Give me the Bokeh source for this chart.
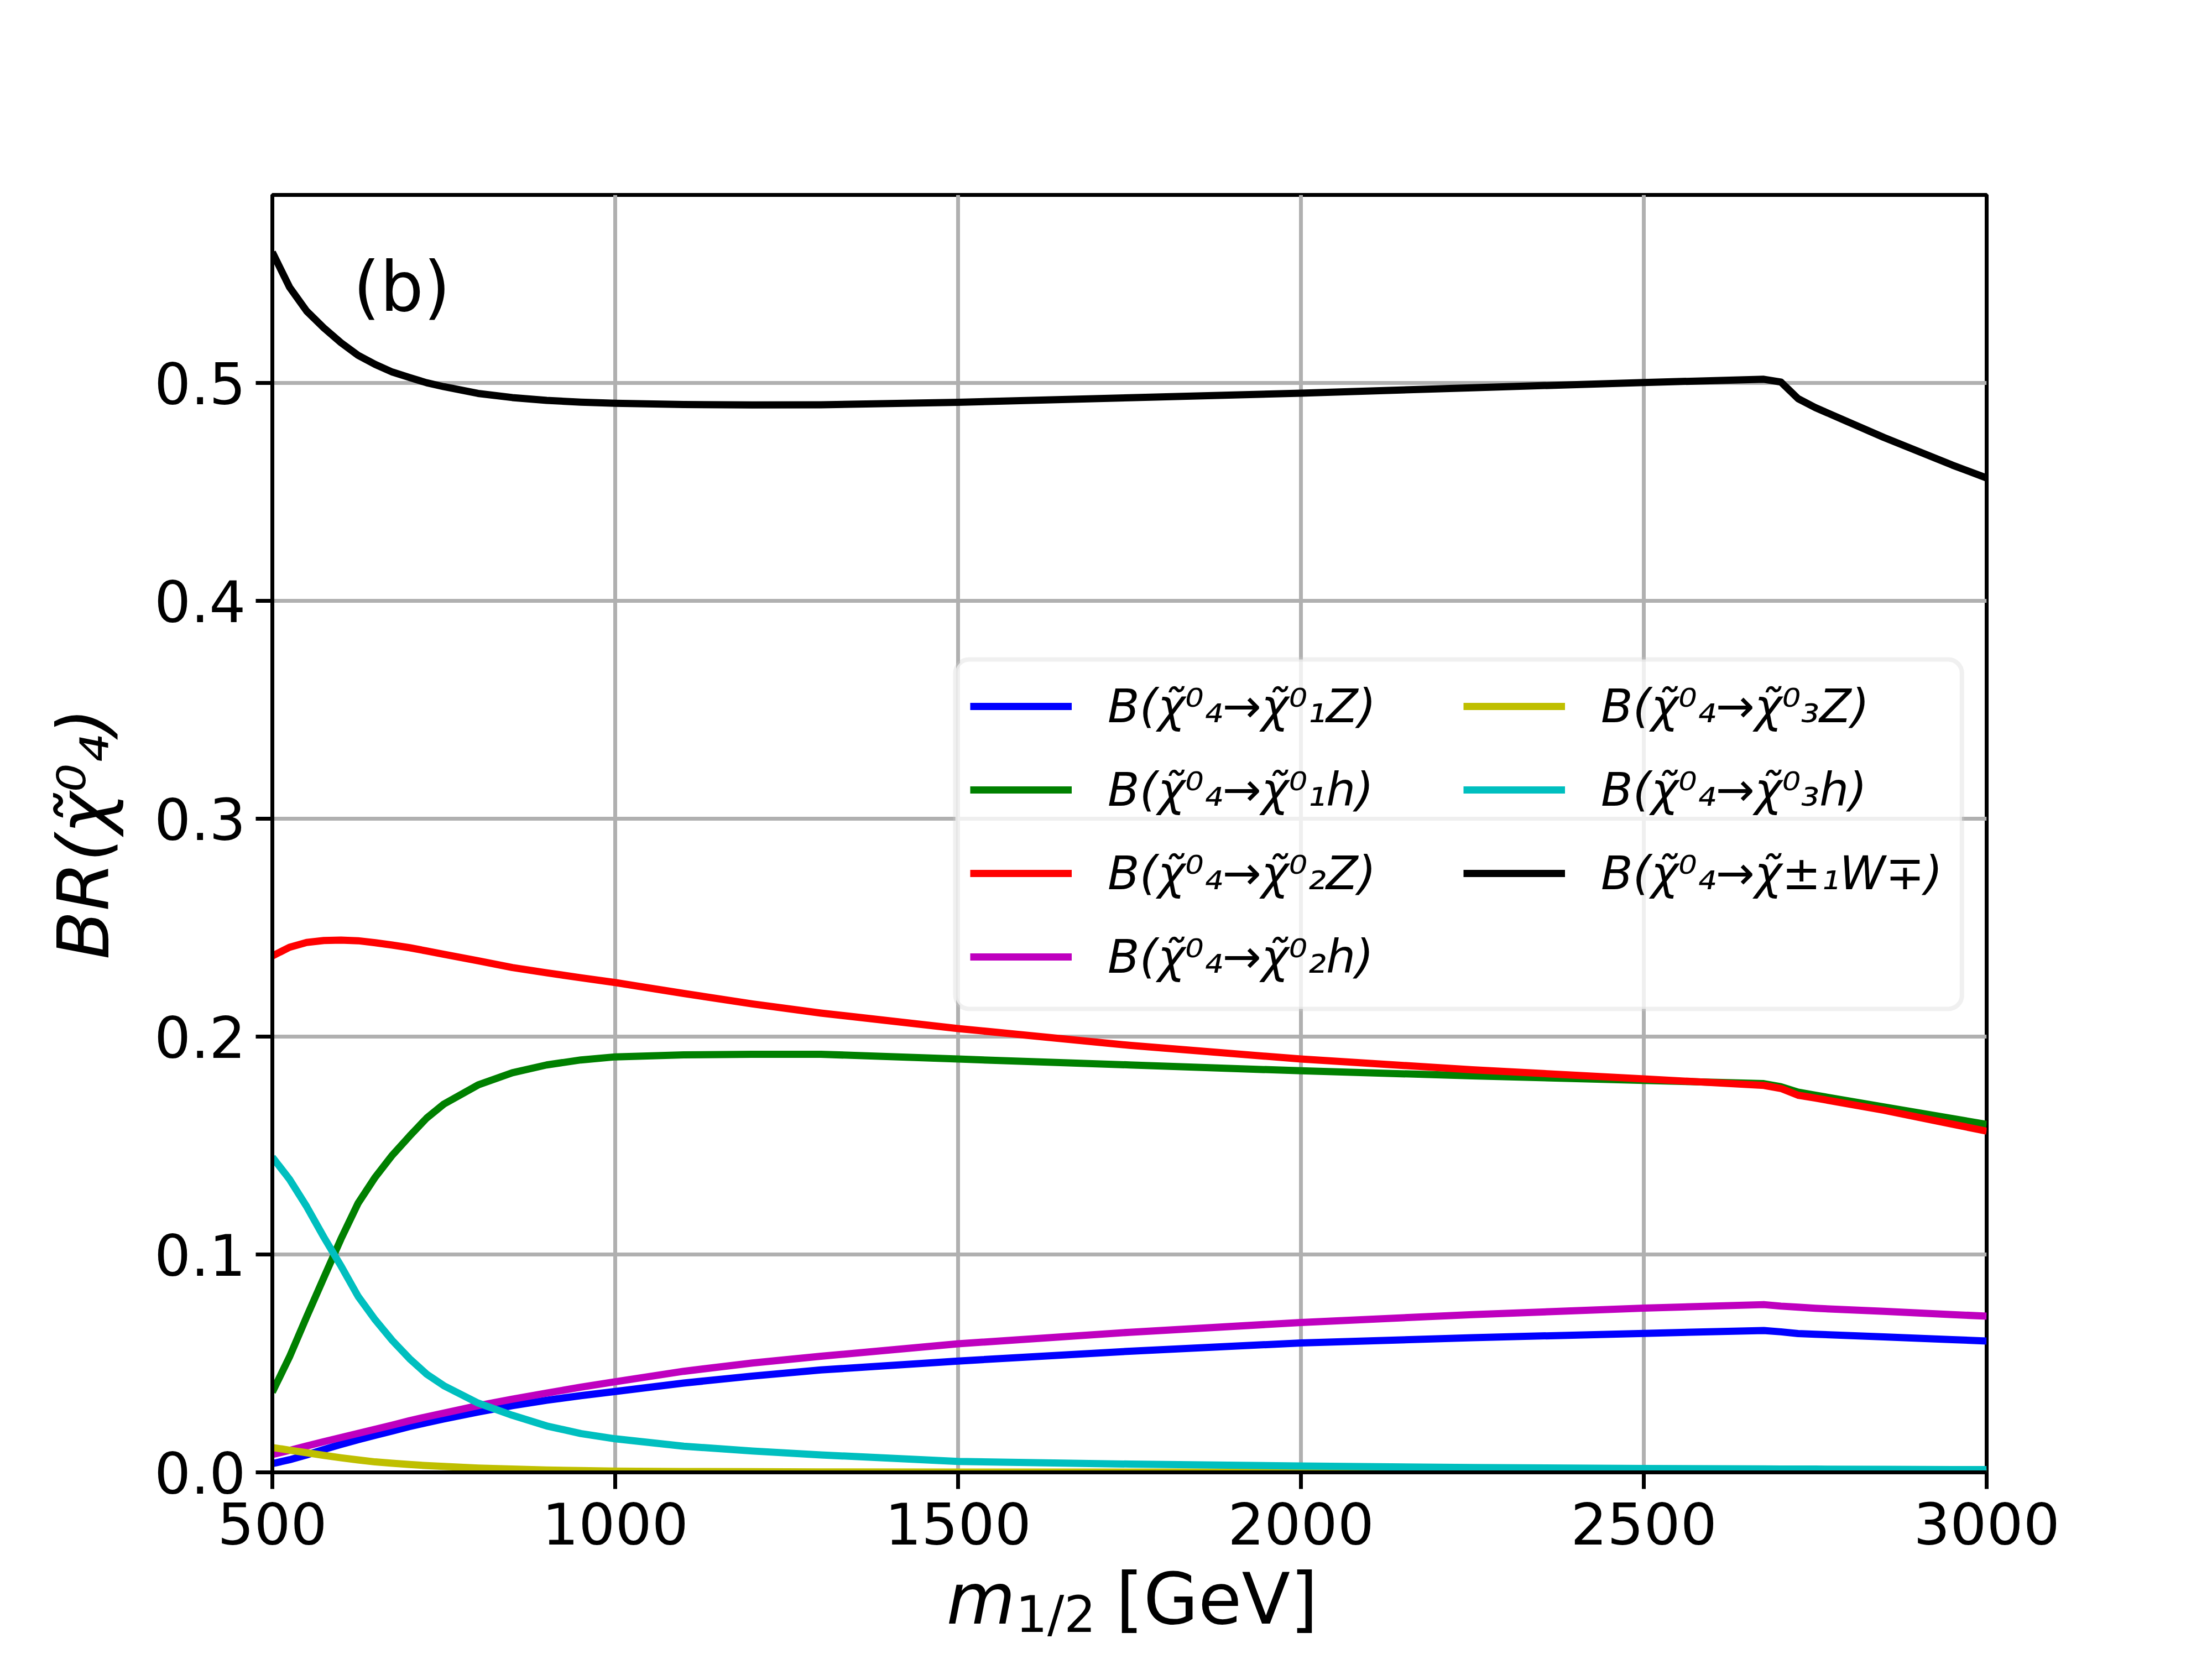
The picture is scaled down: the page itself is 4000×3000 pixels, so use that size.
import numpy as np
from bokeh.plotting import figure
from bokeh.models import (Range1d, FixedTicker, PrintfTickFormatter, Legend,
                          LegendItem, BoxAnnotation, Label)
from bokeh.embed import file_html
from bokeh.resources import INLINE

# ---------------- data ----------------
m_half = [500, 525, 550, 575, 600, 625, 650, 675, 700, 725, 750, 800, 850, 900, 950,
          1000, 1100, 1200, 1300, 1500, 1750, 2000, 2250, 2500, 2675, 2700, 2725,
          2750, 2850, 2950, 3000]

br_chi1_Z = [0.0040, 0.0058, 0.0080, 0.0105, 0.0128, 0.0150, 0.0170, 0.0190, 0.0210,
             0.0228, 0.0245, 0.0277, 0.0306, 0.0331, 0.0352, 0.0371, 0.0410, 0.0442,
             0.0470, 0.0511, 0.0556, 0.0594, 0.0618, 0.0638, 0.0651, 0.0645, 0.0637,
             0.0634, 0.0622, 0.0609, 0.0603]

br_chi1_h = [0.0368, 0.0530, 0.0714, 0.0893, 0.1071, 0.1235, 0.1355, 0.1456, 0.1543,
             0.1626, 0.1690, 0.1778, 0.1834, 0.1870, 0.1893, 0.1907, 0.1916, 0.1919,
             0.1919, 0.1897, 0.1870, 0.1843, 0.1820, 0.1799, 0.1784, 0.1770, 0.1745,
             0.1731, 0.1677, 0.1624, 0.1597]

br_chi2_Z = [0.2370, 0.2410, 0.2432, 0.2441, 0.2443, 0.2440, 0.2431, 0.2420, 0.2408,
             0.2393, 0.2378, 0.2348, 0.2317, 0.2293, 0.2270, 0.2248, 0.2198, 0.2150,
             0.2108, 0.2037, 0.1960, 0.1897, 0.1848, 0.1806, 0.1776, 0.1762, 0.1731,
             0.1718, 0.1662, 0.1598, 0.1566]

br_chi2_h = [0.0082, 0.0101, 0.0121, 0.0141, 0.0160, 0.0179, 0.0198, 0.0217, 0.0237,
             0.0255, 0.0272, 0.0306, 0.0336, 0.0364, 0.0391, 0.0416, 0.0464, 0.0502,
             0.0533, 0.0590, 0.0643, 0.0688, 0.0724, 0.0754, 0.0770, 0.0763, 0.0758,
             0.0753, 0.0739, 0.0724, 0.0717]

br_chi3_Z = [0.0114, 0.0102, 0.0090, 0.0078, 0.0067, 0.0057, 0.0048, 0.0042, 0.0036,
             0.0031, 0.0027, 0.0020, 0.0015, 0.0011, 0.0008, 0.0006, 0.0004, 0.0003,
             0.0002, 0.0001, 0.0001, 0.0001, 0.0000, 0.0000, 0.0000, 0.0000, 0.0000,
             0.0000, 0.0000, 0.0000, 0.0000]

br_chi3_h = [0.1447, 0.1345, 0.1220, 0.1080, 0.0948, 0.0808, 0.0700, 0.0605, 0.0522,
             0.0451, 0.0398, 0.0318, 0.0262, 0.0213, 0.0178, 0.0154, 0.0120, 0.0098,
             0.0080, 0.0050, 0.0038, 0.0029, 0.0022, 0.0018, 0.0016, 0.0015, 0.0015,
             0.0015, 0.0014, 0.0013, 0.0013]

br_charg_W = [0.5600, 0.5440, 0.5330, 0.5253, 0.5185, 0.5127, 0.5085, 0.5050, 0.5025,
              0.5001, 0.4983, 0.4952, 0.4933, 0.4920, 0.4912, 0.4907, 0.4901, 0.4899,
              0.4900, 0.4911, 0.4932, 0.4953, 0.4978, 0.5002, 0.5017, 0.5004, 0.4928,
              0.4887, 0.4750, 0.4623, 0.4564]

x_ticks = [500, 1000, 1500, 2000, 2500, 3000]
y_ticks = [0.0, 0.1, 0.2, 0.3, 0.4, 0.5]

chi = "\u03c7\u0303"
labels = [
    "B(" + chi + "\u2070\u2084\u2192" + chi + "\u2070\u2081Z)",
    "B(" + chi + "\u2070\u2084\u2192" + chi + "\u2070\u2081h)",
    "B(" + chi + "\u2070\u2084\u2192" + chi + "\u2070\u2082Z)",
    "B(" + chi + "\u2070\u2084\u2192" + chi + "\u2070\u2082h)",
    "B(" + chi + "\u2070\u2084\u2192" + chi + "\u2070\u2083Z)",
    "B(" + chi + "\u2070\u2084\u2192" + chi + "\u2070\u2083h)",
    "B(" + chi + "\u2070\u2084\u2192" + chi + "\u00b1\u2081W\u2213)",
]
colors = ["#0000ff", "#008000", "#ff0000", "#bf00bf", "#bfbf00", "#00bfbf", "#000000"]
series = [br_chi1_Z, br_chi1_h, br_chi2_Z, br_chi2_h, br_chi3_Z, br_chi3_h, br_charg_W]

FONT = "DejaVu Sans"

p = figure(width=3984, height=2984, output_backend="svg", toolbar_location=None,
           x_range=Range1d(500, 3000), y_range=Range1d(0, 0.5863),
           min_border_left=492, min_border_right=392, min_border_top=352,
           min_border_bottom=322)
p.background_fill_color = "white"
p.border_fill_color = "white"
p.outline_line_color = "black"
p.outline_line_width = 7
p.outline_line_alpha = 1.0

for ax in (p.xaxis[0], p.yaxis[0]):
    ax.axis_line_color = "black"
    ax.axis_line_width = 7
    ax.major_tick_line_color = "black"
    ax.major_tick_line_width = 7
    ax.major_tick_out = 30
    ax.major_tick_in = 0
    ax.minor_tick_out = 0
    ax.minor_tick_in = 0
    ax.major_label_text_font = FONT
    ax.major_label_text_font_size = "104px"
    ax.major_label_text_color = "black"

p.xaxis.ticker = FixedTicker(ticks=x_ticks)
p.xaxis.formatter = PrintfTickFormatter(format="%d")
p.xaxis.major_label_standoff = 24
p.yaxis.ticker = FixedTicker(ticks=y_ticks)
p.yaxis.formatter = PrintfTickFormatter(format="%.1f")
p.yaxis.major_label_standoff = 18

p.yaxis.axis_label = "BR(" + chi + "\u2070\u2084)"
p.yaxis.axis_label_text_font = FONT
p.yaxis.axis_label_text_font_size = "128px"
p.yaxis.axis_label_text_font_style = "italic"
p.yaxis.axis_label_text_color = "black"
p.yaxis.axis_label_standoff = 50

for g in (p.xgrid[0], p.ygrid[0]):
    g.grid_line_color = "#b0b0b0"
    g.grid_line_width = 7

renderers = []
for ys, c in zip(series, colors):
    r = p.line(m_half, ys, line_color=c, line_width=13, line_join="round")
    renderers.append(r)

# x-axis label built from pieces (italic m, subscript 1/2, upright [GeV]).
# They sit in side panels (so they are not clipped to the frame) but are
# positioned in data units just below the x axis.
p.add_layout(Label(x=1483, y=-0.0580, text="m", text_font=FONT, text_font_size="128px",
                   text_font_style="italic", text_baseline="alphabetic", text_align="left",
                   text_color="black"), "above")
p.add_layout(Label(x=1730, y=-0.0580, text="[GeV]", text_font=FONT, text_font_size="128px",
                   text_baseline="alphabetic", text_align="left", text_color="black"), "above")
p.add_layout(Label(x=1584, y=-0.0652, text="1/2", text_font=FONT, text_font_size="90px",
                   text_baseline="alphabetic", text_align="left", text_color="black"), "below")

# panel tag
p.add_layout(Label(x=618, y=0.5440, text="(b)", text_font=FONT, text_font_size="124px",
                   text_baseline="alphabetic", text_align="left", text_color="black"))

# legend frame
frame = BoxAnnotation(left=1496, right=2964, top=0.3731, bottom=0.2127,
                      fill_color="white", fill_alpha=0.8, line_color="#cccccc",
                      line_width=8, border_radius=25)
p.add_layout(frame)

common = dict(background_fill_alpha=0, border_line_color=None, padding=0, margin=0,
              glyph_width=184, glyph_height=110, label_height=110, label_standoff=65,
              spacing=41, label_text_font=FONT, label_text_font_size="84px",
              label_text_font_style="italic", label_text_color="black",
              label_text_baseline="middle")
leg1 = Legend(items=[LegendItem(label=labels[i], renderers=[renderers[i]]) for i in range(4)],
              location=(1262, 877), **common)
leg2 = Legend(items=[LegendItem(label=labels[i], renderers=[renderers[i]]) for i in range(4, 7)],
              location=(2154, 1028), **common)
p.add_layout(leg1, "center")
p.add_layout(leg2, "center")

open("out.html", "w").write(file_html(p, INLINE))
